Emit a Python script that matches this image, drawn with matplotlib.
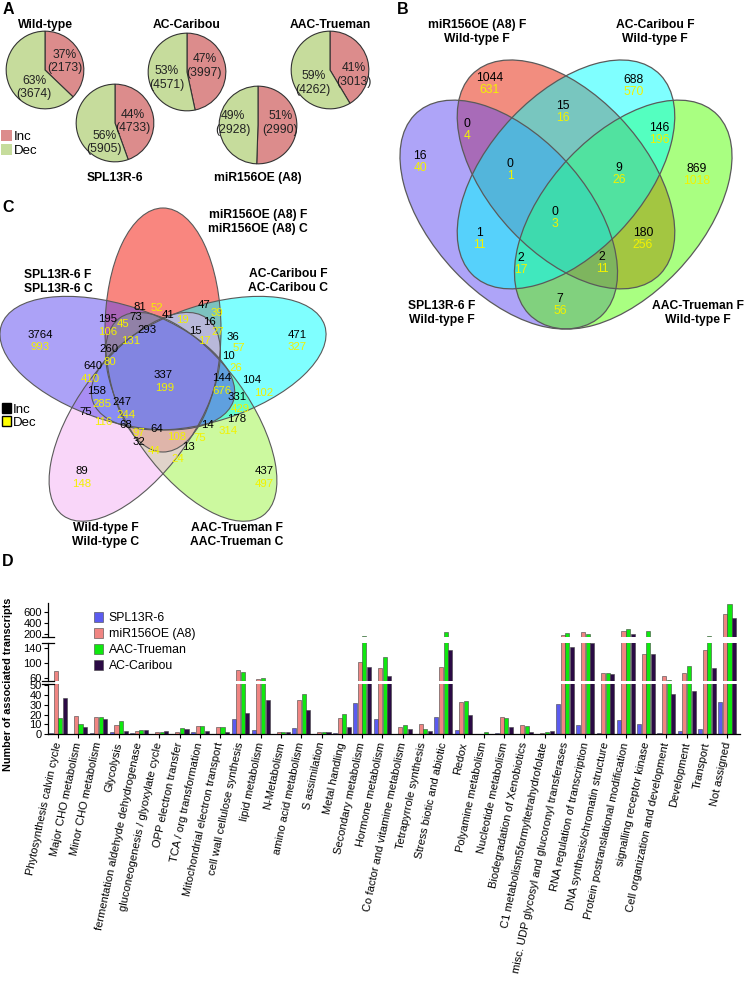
import numpy as np
import matplotlib

matplotlib.use("Agg")
import matplotlib.pyplot as plt
from matplotlib.patches import Ellipse, Patch

plt.rcParams["font.family"] = ["Liberation Sans", "DejaVu Sans"]

W, H = 744, 991

# ---------------- panel A: pies ----------------
pie_names = ["Wild-type", "SPL13R-6", "AC-Caribou", "miR156OE (A8)", "AAC-Trueman"]
inc_counts = [2173, 4733, 3997, 2990, 3013]
dec_counts = [3674, 5905, 4571, 2928, 4262]
inc_pct = [37, 44, 47, 51, 41]
dec_pct = [63, 56, 53, 49, 59]

# ---------------- panel B: 4-set venn (black = Inc, yellow = Dec) ----------------
venn4_titles = ["SPL13R-6 F\nWild-type F", "miR156OE (A8) F\nWild-type F",
                "AC-Caribou F\nWild-type F", "AAC-Trueman F\nWild-type F"]
venn4_inc = [1044, 688, 15, 0, 146, 16, 0, 9, 869, 0, 1, 180, 2, 2, 7]
venn4_dec = [631, 570, 16, 4, 196, 40, 1, 26, 1018, 3, 11, 256, 17, 11, 56]

# ---------------- panel C: 5-set venn ----------------
venn5_titles = ["miR156OE (A8) F\nmiR156OE (A8) C", "AC-Caribou F\nAC-Caribou C",
                "AAC-Trueman F\nAAC-Trueman C", "Wild-type F\nWild-type C",
                "SPL13R-6 F\nSPL13R-6 C"]
venn5_inc = [3764, 195, 81, 73, 293, 41, 47, 16, 15, 36, 471, 260, 10, 640, 337,
             144, 104, 158, 331, 247, 75, 178, 68, 64, 14, 32, 13, 89, 437]
venn5_dec = [993, 106, 52, 45, 131, 19, 39, 27, 17, 57, 327, 80, 26, 410, 199,
             676, 102, 285, 429, 244, 116, 314, 97, 108, 75, 44, 24, 148, 497]

# ---------------- panel D: bars ----------------
categories = [
    "Phytosynthesis calvin cycle", "Major CHO metabolism", "Minor CHO metabolism",
    "Glycolysis", "fermentation aldehyde dehydrogenase",
    "gluconeogenesis / glyoxylate cycle", "OPP electron transfer",
    "TCA / org transformation", "Mitochondrial electron transport",
    "cell wall cellulose synthesis", "lipid metabolism", "N-Metabolism",
    "amino acid metabolism", "S assimilation", "Metal handling",
    "Secondary metabolism", "Hormone metabolism", "Co factor and vitamine metabolism",
    "Tetrapyrrole synthesis", "Stress biotic and abiotic", "Redox",
    "Polyamine metabolism", "Nucleotide metabolism", "Biodegradation of Xenobiotics",
    "C1 metabolism5formyltetrahydrofolate",
    "misc. UDP glycosyl and glucoronyl transferases",
    "RNA regulation of transcription", "DNA synthesis/chromatin structure",
    "Protein postranslational modification", "signalling receptor kinase",
    "Cell organization and development", "Development", "Transport", "Not assigned",
]
series = ["SPL13R-6", "miR156OE (A8)", "AAC-Trueman", "AC-Caribou"]
spl = [1, 0, 1, 2, 1, 0, 0, 2, 0, 15, 4, 0, 6, 0, 1, 32, 15, 0, 0, 18, 4, 0, 1, 0, 0,
       31, 9, 1, 14, 10, 1, 3, 5, 33]
mir = [78, 19, 18, 9, 3, 2, 2, 8, 7, 81, 58, 2, 35, 2, 16, 103, 88, 7, 10, 91, 33, 0,
       17, 9, 1, 190, 238, 73, 254, 125, 66, 74, 135, 562]
aac = [16, 10, 18, 13, 4, 2, 6, 8, 7, 77, 60, 2, 41, 2, 21, 175, 117, 9, 5, 250, 34, 2,
       16, 8, 2, 232, 211, 73, 303, 259, 55, 92, 180, 740]
acc = [37, 7, 15, 3, 4, 3, 5, 3, 2, 22, 35, 2, 25, 2, 7, 90, 65, 5, 3, 134, 20, 0,
       7, 2, 3, 142, 152, 72, 211, 123, 41, 44, 88, 486]


def fx(x):
    return x / W


def fy(y):
    return 1 - y / H


fig = plt.figure(figsize=(W / 100, H / 100), dpi=100)
canvas = fig.add_axes([0, 0, 1, 1])
canvas.set_xlim(0, W)
canvas.set_ylim(H, 0)
canvas.axis("off")

for letter, (lx, ly) in zip("ABCD", [(8, 10), (403, 9), (8, 208), (8, 562)]):
    canvas.text(lx, ly, letter, fontsize=11.5, fontweight="bold", ha="center", va="center")

# ---- A
pink_c, green_c = "#dc8c8c", "#c6dc9c"
pie_xy = [(45, 70), (115, 123), (187, 72), (258, 125), (330, 70)]
title_xy = [(45, 25), (115, 178), (187, 25), (258, 178), (330, 25)]
inc_xy = [(0.5, 0.22), (0.45, 0.04), (0.45, 0.15), (0.58, 0.06), (0.62, -0.12)]
dec_xy = [(-0.28, -0.45), (-0.28, -0.5), (-0.53, -0.15), (-0.65, 0.05), (-0.43, -0.33)]
r = 40
for i, name in enumerate(pie_names):
    cx, cy = pie_xy[i]
    ax = fig.add_axes([fx(cx - r), fy(cy + r), 2 * r / W, 2 * r / H])
    ax.pie([inc_counts[i], dec_counts[i]], colors=[pink_c, green_c], startangle=90,
           counterclock=False, wedgeprops=dict(edgecolor="#333333", linewidth=0.8))
    ax.set_xlim(-1.03, 1.03)
    ax.set_ylim(-1.03, 1.03)
    ax.text(*inc_xy[i], f"{inc_pct[i]}%\n({inc_counts[i]})", ha="center", va="center",
            fontsize=8.7, color="#222222")
    ax.text(*dec_xy[i], f"{dec_pct[i]}%\n({dec_counts[i]})", ha="center", va="center",
            fontsize=8.7, color="#222222")
    canvas.text(*title_xy[i], name, fontsize=8.7, fontweight="bold", ha="center", va="center")

fig.legend(handles=[Patch(facecolor=pink_c), Patch(facecolor=green_c)], labels=["Inc", "Dec"],
           loc="upper left", bbox_to_anchor=(fx(1), fy(130)), frameon=False, fontsize=9.5,
           handlelength=0.8, handleheight=0.9, handletextpad=0.2, labelspacing=0.05,
           borderpad=0, borderaxespad=0)

yellow = "#f2f200"
edge = "#5a5a5a"

# ---- B
axb = fig.add_axes([fx(400), fy(329), (732 - 400) / W, (329 - 60) / H])
axb.set_xlim(0.065, 0.935)
axb.set_ylim(0.185, 0.855)
axb.axis("off")
# (center, angle, colour) for purple, red, cyan, green
ell4 = {"P": ((0.35, 0.47), 135, "#5f4bf2"), "R": ((0.5, 0.57), 135, "#e61c00"),
        "C": ((0.5, 0.57), 45, "#00ffff"), "G": ((0.65, 0.47), 45, "#55ff05")}
for k in ["R", "P", "G", "C"]:
    c, ang, col = ell4[k]
    axb.add_patch(Ellipse(c, 0.7, 0.4, angle=ang, facecolor=col, alpha=0.5,
                          edgecolor="none", clip_on=False))
for k in ["R", "P", "G", "C"]:
    c, ang, col = ell4[k]
    axb.add_patch(Ellipse(c, 0.7, 0.4, angle=ang, fill=False, edgecolor=edge,
                          linewidth=0.9, clip_on=False))

b_pos = [(490, 78), (634, 80), (563, 106), (467, 124), (659, 128), (420, 156),
         (510, 164), (619, 168), (697, 169), (555, 212), (479, 233), (643, 233),
         (521, 258), (602, 257), (560, 299)]
for (px, py), vi, vd in zip(b_pos, venn4_inc, venn4_dec):
    axb.text(px, py, str(vi), fontsize=8.7, ha="center", va="center", color="black",
             transform=canvas.transData, clip_on=False)
    axb.text(px, py + 12, str(vd), fontsize=8.7, ha="center", va="center", color=yellow,
             transform=canvas.transData, clip_on=False)
for (tx, ty), t in zip([(442, 313), (477, 32), (655, 32), (698, 313)], venn4_titles):
    axb.text(tx, ty, t, fontsize=8.7, fontweight="bold", ha="center", va="center",
             transform=canvas.transData, clip_on=False)

# ---- C (pixel coords on the canvas)
c0 = np.array([163.0, 378.0])
d, a5, b5 = 48, 122, 58
ell5 = [("#f50f00", 0), ("#00ffff", 1), ("#9bf541", 2), ("#f5aff5", 3), ("#5a46f0", 4)]
order = [0, 2, 1, 3, 4]
for i in order:
    col, k = ell5[i]
    th = np.deg2rad(72 * k)
    cen = c0 + d * np.array([np.sin(th), -np.cos(th)])
    canvas.add_patch(Ellipse(cen, 2 * b5, 2 * a5, angle=72 * k, facecolor=col, alpha=0.5,
                             edgecolor="none"))
for i in order:
    col, k = ell5[i]
    th = np.deg2rad(72 * k)
    cen = c0 + d * np.array([np.sin(th), -np.cos(th)])
    canvas.add_patch(Ellipse(cen, 2 * b5, 2 * a5, angle=72 * k, fill=False,
                             edgecolor=edge, linewidth=0.8))

c_inc_pos = [(40, 335), (108, 319), (140, 307), (136, 317), (147, 330), (168, 315),
             (204, 305), (209, 322), (195, 331), (233, 337), (297, 335), (109, 349),
             (228, 356), (93, 366), (163, 375), (222, 378), (252, 380), (97, 391),
             (237, 397), (122, 402), (86, 412), (237, 419), (126, 425), (157, 429),
             (207, 425), (139, 442), (188, 447), (82, 471), (264, 471)]
c_dec_pos = [(40, 347), (108, 332), (157, 308), (123, 324), (131, 341), (182, 320),
             (217, 313), (218, 332), (204, 341), (239, 348), (297, 347), (110, 362),
             (236, 368), (90, 379), (165, 388), (222, 391), (264, 393), (102, 404),
             (240, 409), (126, 415), (103, 422), (228, 431), (139, 433), (177, 437),
             (200, 438), (154, 451), (178, 459), (82, 484), (264, 484)]
for vi, vd, pi, pd in zip(venn5_inc, venn5_dec, c_inc_pos, c_dec_pos):
    canvas.text(*pi, str(vi), fontsize=8.2, ha="center", va="center", color="black")
    canvas.text(*pd, str(vd), fontsize=8.2, ha="center", va="center", color=yellow)
for (tx, ty), t in zip([(258, 222), (288, 281), (237, 535), (106, 535), (58, 282)],
                       venn5_titles):
    canvas.text(tx, ty, t, fontsize=8.7, fontweight="bold", ha="center", va="center")

fig.legend(handles=[Patch(facecolor="black", edgecolor="black"),
                    Patch(facecolor="#ffff00", edgecolor="black")], labels=["Inc", "Dec"],
           loc="upper left", bbox_to_anchor=(fx(2), fy(403)), frameon=False, fontsize=9.5,
           handlelength=0.7, handleheight=0.8, handletextpad=0.15, labelspacing=0.05,
           borderpad=0, borderaxespad=0)

# ---- D
bar_cols = ["#5b5bef", "#f08582", "#0fe80f", "#2b0a45"]
values = [spl, mir, aac, acc]
seg_lims = [(155, 760), (53, 153), (0, 51.5)]
seg_px = [(603, 637), (643, 681), (684, 734)]
seg_ticks = [[200, 400, 600], [60, 100, 140], [0, 10, 20, 30, 40, 50]]
x = np.arange(len(categories))
offs = [-0.34, -0.113, 0.113, 0.34]
x0, x1 = 48, 740
axes_d = []
for s in range(3):
    top, bot = seg_px[s]
    ax = fig.add_axes([fx(x0), fy(bot), (x1 - x0) / W, (bot - top) / H])
    for j in range(4):
        ax.bar(x + offs[j], values[j], width=0.2, color=bar_cols[j], edgecolor="#444444",
               linewidth=0.4, label=series[j])
    ax.set_xlim(-0.49, 33.63)
    ax.set_ylim(*seg_lims[s])
    ax.set_yticks(seg_ticks[s])
    ax.tick_params(axis="y", labelsize=8.0, length=3, width=0.8, pad=1.5)
    ax.spines["top"].set_visible(False)
    ax.spines["right"].set_visible(False)
    ax.spines["left"].set_linewidth(0.9)
    if s < 2:
        ax.spines["bottom"].set_visible(False)
        ax.set_xticks([])
    ax.patch.set_alpha(0)
    # break marks
    for yy in ([0] if s == 0 else [0, 1] if s == 1 else [1]):
        ax.plot([-0.008, 0.008], [yy, yy], transform=ax.transAxes, color="black",
                linewidth=0.9, clip_on=False)
    axes_d.append(ax)

axd = axes_d[2]
axd.spines["bottom"].set_linewidth(0.9)
axd.set_xticks(x)
axd.set_xticklabels(categories, rotation=78, ha="right", va="center",
                    rotation_mode="anchor", fontsize=8.0)
axd.tick_params(axis="x", length=3, width=0.8, pad=3)

handles, labels = axd.get_legend_handles_labels()
fig.legend(handles, labels, loc="upper left", bbox_to_anchor=(fx(94), fy(612)),
           frameon=False, fontsize=8.8, handlelength=0.7, handleheight=0.9,
           handletextpad=0.5, labelspacing=0.3, borderpad=0, borderaxespad=0)

fig.text(fx(8), fy(684), "Number of associated transcripts", rotation=90,
         fontsize=7.8, fontweight="bold", ha="center", va="center")

fig.savefig("out.png", dpi=100)
